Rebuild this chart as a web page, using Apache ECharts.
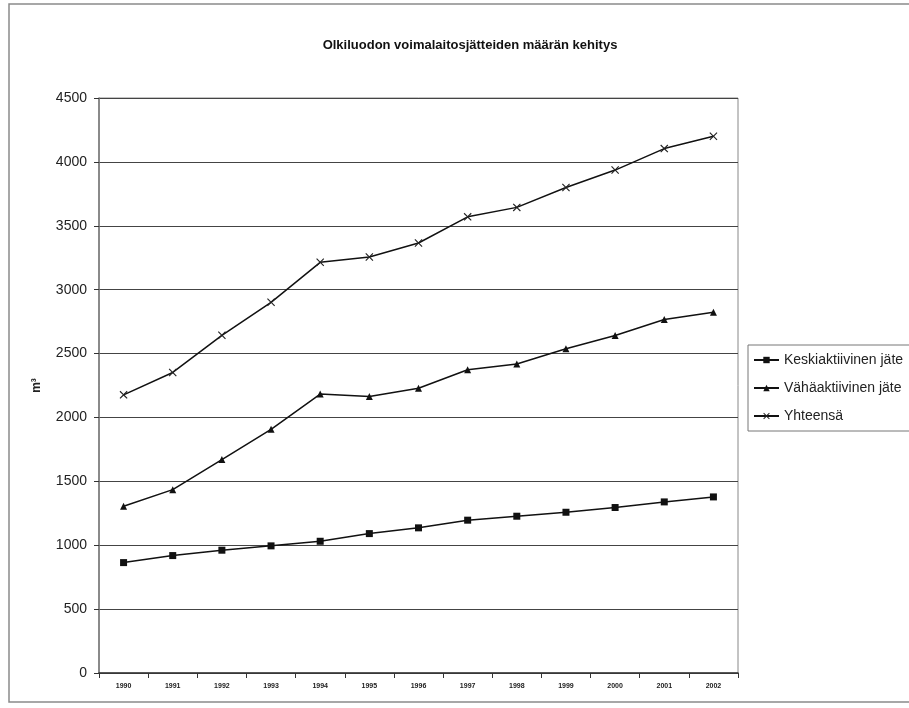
<!DOCTYPE html>
<html>
<head>
<meta charset="utf-8">
<script src="https://cdn.jsdelivr.net/npm/echarts@6/dist/echarts.min.js"></script>
<style>
  html, body { margin: 0; padding: 0; background: #ffffff; }
  #chart { width: 909px; height: 708px; }
</style>
</head>
<body>
<div id="chart"></div>
<script>
const years = ['1990','1991','1992','1993','1994','1995','1996','1997','1998','1999','2000','2001','2002'];
const keskiaktiivinen = [864, 919, 961, 995, 1031, 1091, 1136, 1196, 1227, 1258, 1295, 1339, 1378];
const vahaaktiivinen = [1305, 1435, 1670, 1907, 2183, 2164, 2228, 2373, 2418, 2537, 2641, 2766, 2823];
const yhteensa = [2177, 2352, 2643, 2901, 3214, 3256, 3365, 3570, 3644, 3800, 3936, 4104, 4201];
const seriesNames = ['Keskiaktiivinen jäte', 'Vähäaktiivinen jäte', 'Yhteensä'];

const crossPath = 'path://M0,1L1,0L5,4L9,0L10,1L6,5L10,9L9,10L5,6L1,10L0,9L4,5Z';
const font = 'Liberation Sans, Arial, sans-serif';

const chart = echarts.init(document.getElementById('chart'));
chart.setOption({
  backgroundColor: '#ffffff',
  animation: false,
  textStyle: { fontFamily: font },
  graphic: [{
    type: 'rect',
    shape: { x: 9, y: 4, width: 940, height: 698 },
    style: { fill: 'none', stroke: '#8a8a8a', lineWidth: 1.5 },
    silent: true
  }],
  title: {
    text: 'Olkiluodon voimalaitosjätteiden määrän kehitys',
    left: 465, top: 34, textAlign: 'center',
    textStyle: { fontFamily: font, fontSize: 13, fontWeight: 'bold', color: '#111' }
  },
  legend: {
    orient: 'vertical',
    left: 748, top: 345,
    padding: [8, 40, 8, 5],
    itemWidth: 25, itemHeight: 8, itemGap: 14,
    borderColor: '#777', borderWidth: 1,
    backgroundColor: '#fff',
    textStyle: { fontFamily: font, fontSize: 14, color: '#222' },
    data: seriesNames
  },
  grid: {
    left: 99, right: 171, top: 98, bottom: 35,
    show: true, borderColor: '#888', borderWidth: 1, backgroundColor: 'transparent'
  },
  xAxis: {
    type: 'category',
    data: years,
    boundaryGap: true,
    axisLine: { lineStyle: { color: '#333', width: 1.5 } },
    axisTick: { show: true, length: 5, lineStyle: { color: '#333' } },
    axisLabel: { fontSize: 7, fontWeight: 'bold', color: '#222', margin: 10 },
    splitLine: { show: false }
  },
  yAxis: {
    type: 'value',
    min: 0, max: 4500, interval: 500,
    name: 'm³',
    nameLocation: 'middle',
    nameGap: 56,
    nameRotate: 90,
    nameTextStyle: { fontFamily: font, fontSize: 12, fontWeight: 'bold', color: '#222' },
    axisLine: { show: true, lineStyle: { color: '#777', width: 1.5 } },
    axisTick: { show: true, length: 5, lineStyle: { color: '#333' } },
    axisLabel: { fontSize: 14, color: '#222', margin: 12, formatter: function (v) { return String(v); } },
    splitLine: { show: true, lineStyle: { color: '#444', width: 1.2 } }
  },
  series: [
    {
      name: seriesNames[0], type: 'line', data: keskiaktiivinen,
      symbol: 'rect', symbolSize: 7,
      lineStyle: { color: '#111', width: 1.5 },
      itemStyle: { color: '#111' }
    },
    {
      name: seriesNames[1], type: 'line', data: vahaaktiivinen,
      symbol: 'triangle', symbolSize: 7,
      lineStyle: { color: '#111', width: 1.5 },
      itemStyle: { color: '#111' }
    },
    {
      name: seriesNames[2], type: 'line', data: yhteensa,
      symbol: crossPath, symbolSize: 8,
      lineStyle: { color: '#111', width: 1.5 },
      itemStyle: { color: '#222' }
    }
  ]
});
</script>
</body>
</html>
